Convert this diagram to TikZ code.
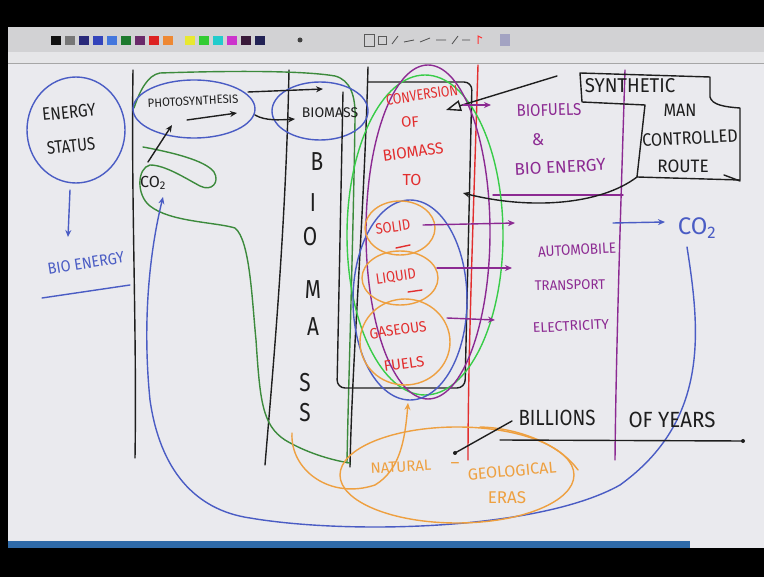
\documentclass[tikz,border=0pt]{standalone}
\usepackage{fontspec}
\setmainfont{Fira Sans}
\usetikzlibrary{arrows.meta}
\definecolor{board}{HTML}{EAEAEE}
\definecolor{toolbar}{HTML}{D2D2D4}
\definecolor{band}{HTML}{E6E6E8}
\definecolor{stripblue}{HTML}{2F6AA8}
\definecolor{inkk}{HTML}{1E1E1E}
\definecolor{inkb}{HTML}{4A5CC4}
\definecolor{inkdg}{HTML}{3C8A3C}
\definecolor{inklime}{HTML}{38CC48}
\definecolor{inkr}{HTML}{E22E2E}
\definecolor{inko}{HTML}{EEA040}
\definecolor{inkp}{HTML}{8C2A92}
\definecolor{sqK}{HTML}{111111}
\definecolor{sqG}{HTML}{777777}
\definecolor{sqN}{HTML}{2A2A7A}
\definecolor{sqBa}{HTML}{3344BB}
\definecolor{sqBb}{HTML}{4477DD}
\definecolor{sqGr}{HTML}{1E7A2E}
\definecolor{sqPu}{HTML}{6A2A6A}
\definecolor{sqR}{HTML}{DD2222}
\definecolor{sqO}{HTML}{EE8833}
\definecolor{sqY}{HTML}{E8E830}
\definecolor{sqLg}{HTML}{33CC33}
\definecolor{sqC}{HTML}{22CCCC}
\definecolor{sqM}{HTML}{CC33CC}
\definecolor{sqDp}{HTML}{3A1A3A}
\definecolor{sqNb}{HTML}{222255}
\newcommand\hsq[2]{\scalebox{#1}[1]{#2}}
\begin{document}
\begin{tikzpicture}[x=1pt,y=-1pt,
  pen/.style={line width=1.4pt, line cap=round, line join=round},
  blk/.style={pen, draw=inkk},
  blu/.style={pen, draw=inkb},
  dgr/.style={pen, draw=inkdg},
  lim/.style={pen, draw=inklime},
  redl/.style={pen, draw=inkr},
  org/.style={pen, draw=inko},
  pur/.style={pen, draw=inkp},
  arr/.style={-{Stealth[length=7pt,width=6pt]}},
  txt/.style={inner sep=0pt},
  fs/.style={font=\fontsize{#1}{#1}\selectfont}
]
\useasboundingbox (0,0) rectangle (764,577);
% ---------- screen frame ----------
\fill[black] (0,0) rectangle (764,577);
\fill[board] (8,64) rectangle (764,541);
\fill[toolbar] (8,27) rectangle (764,52);
\fill[band] (8,52) rectangle (764,63);
\draw[gray!70, line width=0.8pt] (8,63.5) -- (764,63.5);
\fill[stripblue] (8,541) rectangle (690,548);
\fill[board] (690,541) rectangle (764,548);
\foreach \c [count=\i] in {sqK,sqG,sqN,sqBa,sqBb,sqGr,sqPu,sqR,sqO}
  \fill[\c] ({37+\i*14},36) rectangle +(10,9);
\foreach \c [count=\i] in {sqY,sqLg,sqC,sqM,sqDp,sqNb}
  \fill[\c] ({171+\i*14},36) rectangle +(10,9);
\fill[gray!50!black] (300,40) circle (2.5pt);
\draw[gray!70!black, line width=0.8pt] (364,34) rectangle (374,46);
\draw[gray!70!black, line width=0.8pt] (378,36) rectangle (386,44);
\draw[gray!60!black, line width=0.8pt] (392,44) -- (398,36) (404,42) -- (414,40) (420,42) -- (430,38) (436,40) -- (446,40);
\draw[gray!60!black, line width=0.8pt] (452,44) -- (458,36) (462,40) -- (470,40);
\draw[red!80, line width=1pt] (478,44) -- (478,36) -- (482,38);
\fill[blue!20!gray!60] (500,34) rectangle (510,46);
% ---------- vertical division lines ----------
\draw[blk] (133,70) .. controls (131,200) and (137,330) .. (135,458);
\draw[blk] (289,70) .. controls (286,230) and (272,380) .. (265,465);
\draw[blk] (368,67) .. controls (364,220) and (352,360) .. (350,467);
\draw[redl] (478,65) .. controls (474,200) and (468,350) .. (468,460);
\draw[pur] (625,70) .. controls (621,200) and (616,350) .. (615,460);
\draw[pur] (493,195) -- (623,195);
% ---------- energy status ----------
\draw[blu] (76,130) ellipse [x radius=49pt, y radius=53pt];
\node[txt, fs=18, text=inkk, rotate=6] (energy) at (69,112) {\hsq{0.85}{ENERGY}};
\node[txt, fs=18, text=inkk, rotate=6] (status) at (71,146) {\hsq{0.83}{STATUS}};
\coordinate (esbot) at (70,190);
\coordinate (beTop) at (68,237);
\draw[blu, arr] (esbot) -- (beTop);
\node[txt, fs=16, text=inkb, rotate=9] (bioen) at (86,263) {\hsq{0.9}{BIO ENERGY}};
\coordinate (ul1) at (42,298);
\coordinate (ul2) at (130,285);
\draw[blu] (ul1) -- (ul2);
% ---------- photosynthesis ----------
\draw[dgr] (134,108) .. controls (140,90) and (148,75) .. (160,73) .. controls (220,71) and (300,70) .. (335,76) .. controls (350,80) and (356,95) .. (355,120) .. controls (353,250) and (348,400) .. (347,463);
\draw[dgr] (143,147) .. controls (170,152) and (205,160) .. (214,172) .. controls (220,182) and (212,192) .. (200,186) .. controls (185,178) and (165,165) .. (150,165) .. controls (137,168) and (136,195) .. (150,206) .. controls (170,222) and (215,222) .. (235,228) .. controls (250,240) and (252,300) .. (256,340) .. controls (260,400) and (262,425) .. (285,440) .. controls (305,452) and (330,460) .. (350,463);
\draw[blu] (194,109) ellipse [x radius=61pt, y radius=29pt];
\node[txt, fs=12, text=inkk, rotate=3] (photo) at (193,101) {\hsq{0.95}{PHOTOSYNTHESIS}};
\coordinate (ph1) at (187,120);
\coordinate (ph2) at (237,113);
\draw[blk, arr] (ph1) -- (ph2);
\node[txt, fs=16, text=inkk] (co2k) at (153,183) {CO\textsubscript{2}};
\coordinate (co2a) at (148,162);
\coordinate (co2b) at (172,125);
\draw[blk, arr] (co2a) -- (co2b);
% ---------- biomass ----------
\draw[blu] (320,111) ellipse [x radius=48pt, y radius=29pt];
\node[txt, fs=14, text=inkk] (biomass) at (330,113) {BIOMASS};
\coordinate (pa1) at (248,92);
\coordinate (pa2) at (323,89);
\draw[blk, arr] (pa1) -- (pa2);
\coordinate (pb1) at (255,115);
\coordinate (pb2) at (295,119);
\draw[blk, arr] (pb1) .. controls (265,121) and (280,120) .. (pb2);
\node[txt, fs=26, text=inkk] (vB) at (317,162) {\hsq{0.8}{B}};
\node[txt, fs=26, text=inkk] (vI) at (313,203) {\hsq{0.8}{I}};
\node[txt, fs=26, text=inkk] (vO) at (310,237) {\hsq{0.8}{O}};
\node[txt, fs=26, text=inkk] (vM) at (313,290) {\hsq{0.8}{M}};
\node[txt, fs=26, text=inkk] (vA) at (313,327) {\hsq{0.8}{A}};
\node[txt, fs=26, text=inkk] (vS1) at (305,383) {\hsq{0.8}{S}};
\node[txt, fs=26, text=inkk] (vS2) at (305,413) {\hsq{0.8}{S}};
% ---------- conversion ----------
\draw[blk, rounded corners=8pt] (343,92) -- (337,388) -- (465,388) -- (472,82) -- (368,82);
\draw[lim] (425,235) ellipse [x radius=78pt, y radius=160pt];
\draw[pur] (428,232) ellipse [x radius=62pt, y radius=167pt];
\draw[blu] (410,300) ellipse [x radius=57pt, y radius=100pt];
\node[txt, fs=15, text=inkr, rotate=8] (conv) at (422,95) {\hsq{0.83}{CONVERSION}};
\node[txt, fs=15, text=inkr, rotate=5] (of1) at (410,122) {OF};
\node[txt, fs=16, text=inkr, rotate=8] (bm2) at (413,152) {\hsq{0.95}{BIOMASS}};
\node[txt, fs=16, text=inkr] (to) at (412,180) {TO};
\draw[org] (400,228) ellipse [x radius=35pt, y radius=27pt];
\draw[org] (400,278) ellipse [x radius=38pt, y radius=27pt];
\draw[org] (405,342) ellipse [x radius=45pt, y radius=43pt];
\node[txt, fs=15, text=inkr, rotate=8] (solid) at (393,227) {\hsq{0.87}{SOLID}};
\node[txt, fs=15, text=inkr, rotate=8] (liquid) at (396,277) {\hsq{0.87}{LIQUID}};
\node[txt, fs=15, text=inkr, rotate=8] (gas) at (398,330) {\hsq{0.92}{GASEOUS}};
\node[txt, fs=15, text=inkr, rotate=8] (fuels) at (404,364) {FUELS};
\draw[redl] (396,248) -- (410,245);
\draw[redl] (408,292) -- (422,290);
\coordinate (s1) at (423,225); \coordinate (s2) at (515,223);
\coordinate (l1) at (437,268); \coordinate (l2) at (512,268);
\coordinate (g1) at (447,318); \coordinate (g2) at (495,320);
\draw[pur, arr] (s1) -- (s2);
\draw[pur, arr] (l1) -- (l2);
\draw[pur, arr] (g1) -- (g2);
\node[txt, fs=15, text=inkp, rotate=3] (auto) at (577,250) {\hsq{0.9}{AUTOMOBILE}};
\node[txt, fs=14, text=inkp, rotate=1] (trans) at (570,285) {\hsq{0.95}{TRANSPORT}};
\node[txt, fs=14, text=inkp, rotate=3] (elec) at (571,326) {ELECTRICITY};
% ---------- synthetic route ----------
\draw[blk] (580,73) -- (710,77) -- (710,97) .. controls (712,105) and (725,107) .. (740,108) -- (740,180) -- (637,177) -- (645,105) -- (582,102) -- cycle;
\draw[blk] (724,175) -- (740,181);
\node[txt, fs=20, text=inkk] (synth) at (630,86) {\hsq{0.93}{SYNTHETIC}};
\node[txt, fs=18, text=inkk] (man) at (680,110) {\hsq{0.9}{MAN}};
\node[txt, fs=18, text=inkk, rotate=3] (contr) at (690,138) {\hsq{0.9}{CONTROLLED}};
\node[txt, fs=18, text=inkk] (route) at (683,166) {\hsq{0.95}{ROUTE}};
\coordinate (sy1) at (557,76);
\coordinate (sy2) at (446,110);
\draw[blk, -{Triangle[open, length=15pt, width=11pt]}] (sy1) -- (sy2);
\coordinate (bf1) at (463,105);
\coordinate (bf2) at (491,105);
\draw[pur, arr] (bf1) -- (bf2);
\coordinate (sy3) at (637,177);
\coordinate (sy4) at (463,193);
\draw[blk, arr] (sy3) .. controls (600,205) and (530,210) .. (sy4);
\node[txt, fs=17, text=inkp, rotate=2] (biof) at (549,110) {\hsq{0.88}{BIOFUELS}};
\node[txt, fs=17, text=inkp] (amp) at (538,140) {\&};
\node[txt, fs=17, text=inkp, rotate=3] (bioe2) at (560,167) {BIO ENERGY};
% ---------- CO2 cycle ----------
\node[txt, fs=24, text=inkb] (co2b) at (697,228) {CO\textsubscript{2}};
\coordinate (cb1) at (613,223);
\coordinate (cb2) at (665,222);
\draw[blu, arr] (cb1) -- (cb2);
\coordinate (u1) at (687,247);
\coordinate (u2) at (163,197);
\draw[blu, arr] (u1) .. controls (700,330) and (710,420) .. (620,485) .. controls (540,530) and (350,535) .. (250,518) .. controls (195,510) and (160,470) .. (150,400) .. controls (142,320) and (150,250) .. (u2);
% ---------- natural geological eras ----------
\draw[org] (457,475) ellipse [x radius=117pt, y radius=48pt];
\draw[org] (480,427) .. controls (520,428) and (560,445) .. (578,470);
\coordinate (o1) at (292,433);
\coordinate (o2) at (408,403);
\draw[org, arr] (o1) .. controls (290,470) and (330,500) .. (375,485) .. controls (400,470) and (405,440) .. (o2);
\node[txt, fs=15, text=inko, rotate=3] (nat) at (401,467) {NATURAL};
\node[txt, fs=17, text=inko] (dash) at (455,466) {–};
\node[txt, fs=16, text=inko, rotate=5] (geo) at (512,471) {GEOLOGICAL};
\node[txt, fs=17, text=inko] (eras) at (507,498) {ERAS};
\node[txt, fs=22, text=inkk] (bill) at (557,418) {\hsq{0.85}{BILLIONS}};
\node[txt, fs=22, text=inkk] (years) at (672,420) {\hsq{0.93}{OF YEARS}};
\coordinate (bl1) at (455,453);
\coordinate (bl2) at (512,421);
\draw[blk] (bl1) -- (bl2);
\fill[inkk] (bl1) circle (2pt);
\coordinate (un1) at (500,440);
\coordinate (un2) at (743,441);
\draw[blk] (un1) -- (un2);
\fill[inkk] (un2) circle (2pt);
\end{tikzpicture}
\end{document}
